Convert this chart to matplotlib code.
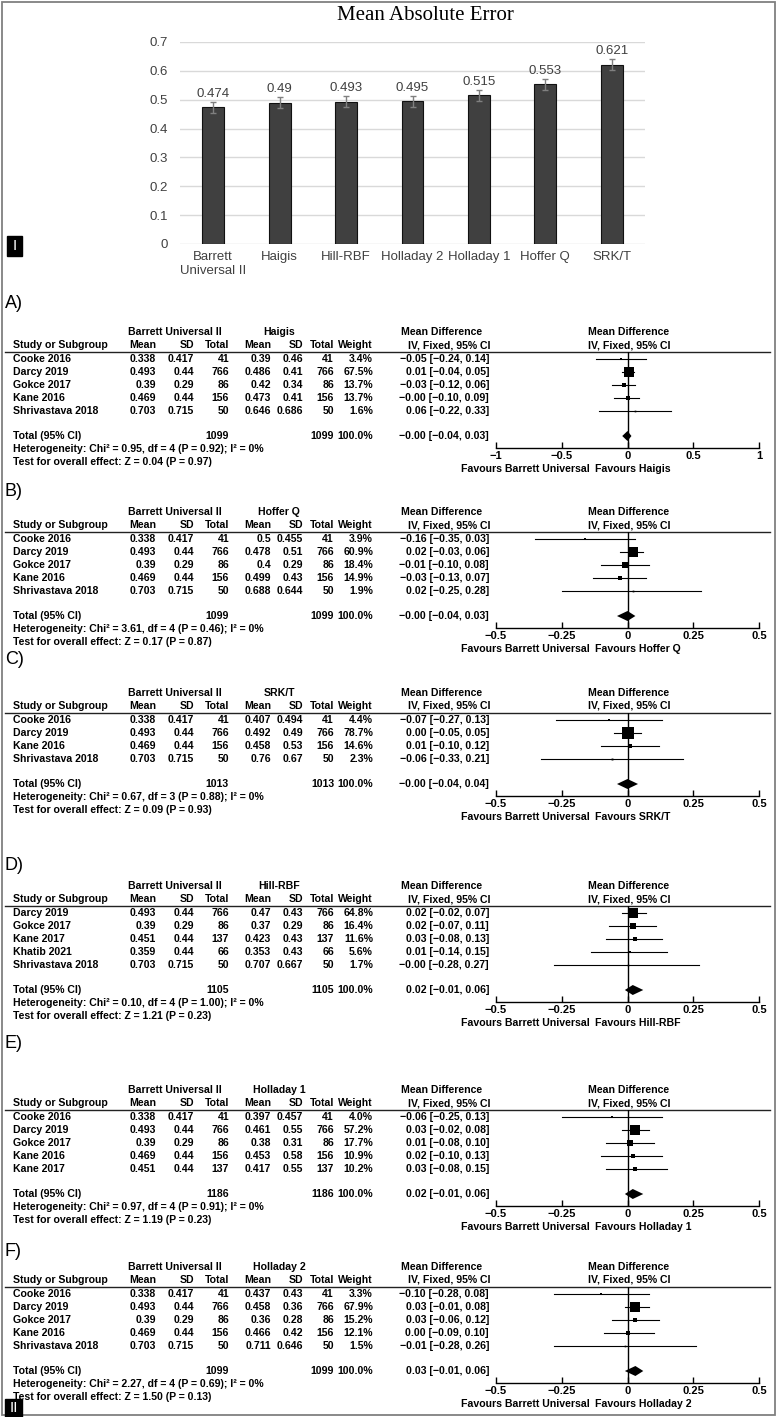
import numpy as np
import matplotlib.pyplot as plt
from matplotlib.patches import Rectangle

# top panel: mean absolute error per formula
formulas = ['Barrett\nUniversal II', 'Haigis', 'Hill-RBF', 'Holladay 2', 'Holladay 1', 'Hoffer Q', 'SRK/T']
mae = [0.474, 0.49, 0.493, 0.495, 0.515, 0.553, 0.621]
mae_err = [0.019, 0.019, 0.019, 0.019, 0.019, 0.018, 0.019]

# A) Barrett Universal II vs Haigis
a_studies = ['Cooke 2016', 'Darcy 2019', 'Gokce 2017', 'Kane 2016', 'Shrivastava 2018']
a_bu_mean = [0.338, 0.493, 0.39, 0.469, 0.703]
a_bu_sd = [0.417, 0.44, 0.29, 0.44, 0.715]
a_n = [41, 766, 86, 156, 50]
a_c_mean = [0.39, 0.486, 0.42, 0.473, 0.646]
a_c_sd = [0.46, 0.41, 0.34, 0.41, 0.686]
a_weight = [3.4, 67.5, 13.7, 13.7, 1.6]
a_md = [-0.05, 0.01, -0.03, -0.00, 0.06]
a_lo = [-0.24, -0.04, -0.12, -0.10, -0.22]
a_hi = [0.14, 0.05, 0.06, 0.09, 0.33]
a_total = [-0.00, -0.04, 0.03]
a_het = 'Heterogeneity: Chi² = 0.95, df = 4 (P = 0.92); I² = 0%'
a_test = 'Test for overall effect: Z = 0.04 (P = 0.97)'

# B) vs Hoffer Q
b_studies = ['Cooke 2016', 'Darcy 2019', 'Gokce 2017', 'Kane 2016', 'Shrivastava 2018']
b_bu_mean = [0.338, 0.493, 0.39, 0.469, 0.703]
b_bu_sd = [0.417, 0.44, 0.29, 0.44, 0.715]
b_n = [41, 766, 86, 156, 50]
b_c_mean = [0.5, 0.478, 0.4, 0.499, 0.688]
b_c_sd = [0.455, 0.51, 0.29, 0.43, 0.644]
b_weight = [3.9, 60.9, 18.4, 14.9, 1.9]
b_md = [-0.16, 0.02, -0.01, -0.03, 0.02]
b_lo = [-0.35, -0.03, -0.10, -0.13, -0.25]
b_hi = [0.03, 0.06, 0.08, 0.07, 0.28]
b_total = [-0.00, -0.04, 0.03]
b_het = 'Heterogeneity: Chi² = 3.61, df = 4 (P = 0.46); I² = 0%'
b_test = 'Test for overall effect: Z = 0.17 (P = 0.87)'

# C) vs SRK/T
c_studies = ['Cooke 2016', 'Darcy 2019', 'Kane 2016', 'Shrivastava 2018']
c_bu_mean = [0.338, 0.493, 0.469, 0.703]
c_bu_sd = [0.417, 0.44, 0.44, 0.715]
c_n = [41, 766, 156, 50]
c_c_mean = [0.407, 0.492, 0.458, 0.76]
c_c_sd = [0.494, 0.49, 0.53, 0.67]
c_weight = [4.4, 78.7, 14.6, 2.3]
c_md = [-0.07, 0.00, 0.01, -0.06]
c_lo = [-0.27, -0.05, -0.10, -0.33]
c_hi = [0.13, 0.05, 0.12, 0.21]
c_total = [-0.00, -0.04, 0.04]
c_het = 'Heterogeneity: Chi² = 0.67, df = 3 (P = 0.88); I² = 0%'
c_test = 'Test for overall effect: Z = 0.09 (P = 0.93)'

# D) vs Hill-RBF
d_studies = ['Darcy 2019', 'Gokce 2017', 'Kane 2017', 'Khatib 2021', 'Shrivastava 2018']
d_bu_mean = [0.493, 0.39, 0.451, 0.359, 0.703]
d_bu_sd = [0.44, 0.29, 0.44, 0.44, 0.715]
d_n = [766, 86, 137, 66, 50]
d_c_mean = [0.47, 0.37, 0.423, 0.353, 0.707]
d_c_sd = [0.43, 0.29, 0.43, 0.43, 0.667]
d_weight = [64.8, 16.4, 11.6, 5.6, 1.7]
d_md = [0.02, 0.02, 0.03, 0.01, -0.00]
d_lo = [-0.02, -0.07, -0.08, -0.14, -0.28]
d_hi = [0.07, 0.11, 0.13, 0.15, 0.27]
d_total = [0.02, -0.01, 0.06]
d_het = 'Heterogeneity: Chi² = 0.10, df = 4 (P = 1.00); I² = 0%'
d_test = 'Test for overall effect: Z = 1.21 (P = 0.23)'

# E) vs Holladay 1
e_studies = ['Cooke 2016', 'Darcy 2019', 'Gokce 2017', 'Kane 2016', 'Kane 2017']
e_bu_mean = [0.338, 0.493, 0.39, 0.469, 0.451]
e_bu_sd = [0.417, 0.44, 0.29, 0.44, 0.44]
e_n = [41, 766, 86, 156, 137]
e_c_mean = [0.397, 0.461, 0.38, 0.453, 0.417]
e_c_sd = [0.457, 0.55, 0.31, 0.58, 0.55]
e_weight = [4.0, 57.2, 17.7, 10.9, 10.2]
e_md = [-0.06, 0.03, 0.01, 0.02, 0.03]
e_lo = [-0.25, -0.02, -0.08, -0.10, -0.08]
e_hi = [0.13, 0.08, 0.10, 0.13, 0.15]
e_total = [0.02, -0.01, 0.06]
e_het = 'Heterogeneity: Chi² = 0.97, df = 4 (P = 0.91); I² = 0%'
e_test = 'Test for overall effect: Z = 1.19 (P = 0.23)'

# F) vs Holladay 2
f_studies = ['Cooke 2016', 'Darcy 2019', 'Gokce 2017', 'Kane 2016', 'Shrivastava 2018']
f_bu_mean = [0.338, 0.493, 0.39, 0.469, 0.703]
f_bu_sd = [0.417, 0.44, 0.29, 0.44, 0.715]
f_n = [41, 766, 86, 156, 50]
f_c_mean = [0.437, 0.458, 0.36, 0.466, 0.711]
f_c_sd = [0.43, 0.36, 0.28, 0.42, 0.646]
f_weight = [3.3, 67.9, 15.2, 12.1, 1.5]
f_md = [-0.10, 0.03, 0.03, 0.00, -0.01]
f_lo = [-0.28, -0.01, -0.06, -0.09, -0.28]
f_hi = [0.08, 0.08, 0.12, 0.10, 0.26]
f_total = [0.03, -0.01, 0.06]
f_het = 'Heterogeneity: Chi² = 2.27, df = 4 (P = 0.69); I² = 0%'
f_test = 'Test for overall effect: Z = 1.50 (P = 0.13)'

panels = [
    dict(tag='A)', tag_y=303, top=332, name='Haigis', studies=a_studies, bu_mean=a_bu_mean, bu_sd=a_bu_sd, n=a_n,
         c_mean=a_c_mean, c_sd=a_c_sd, weight=a_weight, md=a_md, lo=a_lo, hi=a_hi, total=a_total,
         het=a_het, test=a_test, lim=1.0, ticks=[-1, -0.5, 0, 0.5, 1]),
    dict(tag='B)', tag_y=492, top=512, name='Hoffer Q', studies=b_studies, bu_mean=b_bu_mean, bu_sd=b_bu_sd, n=b_n,
         c_mean=b_c_mean, c_sd=b_c_sd, weight=b_weight, md=b_md, lo=b_lo, hi=b_hi, total=b_total,
         het=b_het, test=b_test, lim=0.5, ticks=[-0.5, -0.25, 0, 0.25, 0.5]),
    dict(tag='C)', tag_y=660, top=693, name='SRK/T', studies=c_studies, bu_mean=c_bu_mean, bu_sd=c_bu_sd, n=c_n,
         c_mean=c_c_mean, c_sd=c_c_sd, weight=c_weight, md=c_md, lo=c_lo, hi=c_hi, total=c_total,
         het=c_het, test=c_test, lim=0.5, ticks=[-0.5, -0.25, 0, 0.25, 0.5]),
    dict(tag='D)', tag_y=866, top=886, name='Hill-RBF', studies=d_studies, bu_mean=d_bu_mean, bu_sd=d_bu_sd, n=d_n,
         c_mean=d_c_mean, c_sd=d_c_sd, weight=d_weight, md=d_md, lo=d_lo, hi=d_hi, total=d_total,
         het=d_het, test=d_test, lim=0.5, ticks=[-0.5, -0.25, 0, 0.25, 0.5]),
    dict(tag='E)', tag_y=1044, top=1090, name='Holladay 1', studies=e_studies, bu_mean=e_bu_mean, bu_sd=e_bu_sd, n=e_n,
         c_mean=e_c_mean, c_sd=e_c_sd, weight=e_weight, md=e_md, lo=e_lo, hi=e_hi, total=e_total,
         het=e_het, test=e_test, lim=0.5, ticks=[-0.5, -0.25, 0, 0.25, 0.5]),
    dict(tag='F)', tag_y=1252, top=1267, name='Holladay 2', studies=f_studies, bu_mean=f_bu_mean, bu_sd=f_bu_sd, n=f_n,
         c_mean=f_c_mean, c_sd=f_c_sd, weight=f_weight, md=f_md, lo=f_lo, hi=f_hi, total=f_total,
         het=f_het, test=f_test, lim=0.5, ticks=[-0.5, -0.25, 0, 0.25, 0.5]),
]

W, H = 777, 1417
TAB = ['Liberation Sans', 'DejaVu Sans']
NARROW = ['Liberation Sans Narrow', 'Liberation Sans', 'DejaVu Sans']
FS = 7.6
PITCH = 13
COLS = [156, 194, 229, 271, 303, 334, 373]   # right edges: Mean SD Total Mean SD Total Weight
CI_R = 489
X0, X1 = 496, 759

fig = plt.figure(figsize=(W / 100, H / 100), dpi=100)
ov = fig.add_axes([0, 0, 1, 1])
ov.set_xlim(0, W)
ov.set_ylim(H, 0)
ov.axis('off')


def box(x0, y0, x1, y1):
    return fig.add_axes([x0 / W, 1 - y1 / H, (x1 - x0) / W, (y1 - y0) / H])


def neg(s):
    return s.replace('-', '\u2212')


def ci(m, l, h):
    return neg(f'{m:.2f} [{l:.2f}, {h:.2f}]')


# ---- bar chart
ax = box(180, 42, 645, 244)
x = np.arange(len(formulas))
ax.bar(x, mae, width=0.33, color='#404040', edgecolor='#111111', linewidth=0.8,
       yerr=mae_err, error_kw=dict(ecolor='#808080', elinewidth=1, capsize=2.5, capthick=1))
for xi, v, e in zip(x, mae, mae_err):
    ax.text(xi, v + e + 0.007, f'{v:g}', ha='center', va='bottom', fontsize=9.5,
            color='#404040', family=NARROW)
ax.set_xlim(-0.5, len(formulas) - 0.5)
ax.set_ylim(0, 0.7)
yt = np.arange(0, 0.71, 0.1)
ax.set_yticks(yt, [f'{v:g}' for v in yt], family=NARROW, fontsize=9.5, color='#404040')
ax.set_xticks(x, formulas, family=NARROW, fontsize=9.5, color='#404040')
ax.tick_params(length=0)
ax.tick_params(axis='x', pad=5)
ax.tick_params(axis='y', pad=9)
ax.grid(axis='y', color='#d9d9d9', lw=1)
ax.set_axisbelow(True)
for s in ax.spines.values():
    s.set_visible(False)
ax.patch.set_visible(False)
ov.text(425, 16, 'Mean Absolute Error', ha='center', va='center', fontsize=15,
        family=['Liberation Serif', 'DejaVu Serif'])

# panel tags and frame
ov.add_patch(Rectangle((7, 236), 15, 20, color='k'))
ov.text(14.5, 246.5, 'I', color='w', ha='center', va='center', fontsize=11, family=TAB)
ov.add_patch(Rectangle((1.5, 1.5), W - 4, H - 4, fill=False, ec='#808080', lw=1.3))

# ---- forest plots
t = dict(fontsize=FS, fontweight='bold', family=TAB, va='center')
for p in panels:
    n = len(p['studies'])
    top = p['top']
    line_y = top + 20
    row0 = top + 27
    rows = [row0 + i * PITCH for i in range(n)]
    total_y = rows[-1] + 25
    het_y = total_y + 13
    test_y = het_y + 13
    axis_y = total_y + 12

    ov.text(5, p['tag_y'], p['tag'], fontsize=13, ha='left', va='center', family=TAB)

    ov.text(175, top, 'Barrett Universal II', ha='center', **t)
    ov.text(279, top, p['name'], ha='center', **t)
    ov.text(442, top, 'Mean Difference', ha='center', **t)
    ov.text(629, top, 'Mean Difference', ha='center', **t)
    hy = top + 13
    ov.text(13, hy, 'Study or Subgroup', ha='left', **t)
    for xr, h in zip(COLS, ['Mean', 'SD', 'Total', 'Mean', 'SD', 'Total', 'Weight']):
        ov.text(xr, hy, h, ha='right', **t)
    ov.text(CI_R + 2, hy, 'IV, Fixed, 95% CI', ha='right', **t)
    ov.text(629, hy, 'IV, Fixed, 95% CI', ha='center', **t)
    ov.plot([5, 770], [line_y, line_y], color='#222222', lw=1)

    for i, y in enumerate(rows):
        cells = [f"{p['bu_mean'][i]:g}", f"{p['bu_sd'][i]:g}", str(p['n'][i]),
                 f"{p['c_mean'][i]:g}", f"{p['c_sd'][i]:g}", str(p['n'][i]),
                 f"{p['weight'][i]:.1f}%"]
        ov.text(13, y, p['studies'][i], ha='left', **t)
        for xr, c in zip(COLS, cells):
            ov.text(xr, y, c, ha='right', **t)
        ov.text(CI_R, y, ci(p['md'][i], p['lo'][i], p['hi'][i]), ha='right', **t)

    tot_n = sum(p['n'])
    ov.text(13, total_y, 'Total (95% CI)', ha='left', **t)
    ov.text(COLS[2], total_y, str(tot_n), ha='right', **t)
    ov.text(COLS[5], total_y, str(tot_n), ha='right', **t)
    ov.text(COLS[6], total_y, '100.0%', ha='right', **t)
    ov.text(CI_R, total_y, ci(*p['total']), ha='right', **t)
    ov.text(13, het_y, p['het'], ha='left', **t)
    ov.text(13, test_y, p['test'], ha='left', **t)

    fa = box(X0, line_y, X1, axis_y)
    fa.set_xlim(-p['lim'], p['lim'])
    fa.set_ylim((axis_y - row0) / PITCH, (line_y - row0) / PITCH)
    fa.axvline(0, color='k', lw=1)
    for i in range(n):
        fa.plot([p['lo'][i], p['hi'][i]], [i, i], color='k', lw=0.8)
        fa.plot(p['md'][i], i, marker='s', ms=max(1.2, 0.9 * np.sqrt(p['weight'][i])),
                color='k', mew=0)
    tm, tl, th = p['total']
    ti = (total_y - row0) / PITCH
    dh = 5 / PITCH
    fa.fill([tl, tm, th, tm], [ti, ti - dh, ti, ti + dh], color='k', lw=0)
    fa.set_xticks(p['ticks'], [neg(f'{v:g}') for v in p['ticks']],
                  fontsize=FS + 0.4, fontweight='bold', family=TAB)
    fa.set_yticks([])
    fa.tick_params(axis='x', direction='in', length=4, width=1, pad=2)
    for side in ['top', 'left', 'right']:
        fa.spines[side].set_visible(False)
    fa.spines['bottom'].set_linewidth(1)
    fa.patch.set_visible(False)

    ov.text(590, axis_y + 21, 'Favours Barrett Universal', ha='right', **t)
    ov.text(595, axis_y + 21, 'Favours ' + p['name'], ha='left', **t)

ov.add_patch(Rectangle((5, 1399), 17, 18, color='k', zorder=5))
ov.text(13.5, 1408, 'II', color='w', ha='center', va='center', fontsize=11, family=TAB, zorder=6)

fig.savefig('out.png', dpi=100)
